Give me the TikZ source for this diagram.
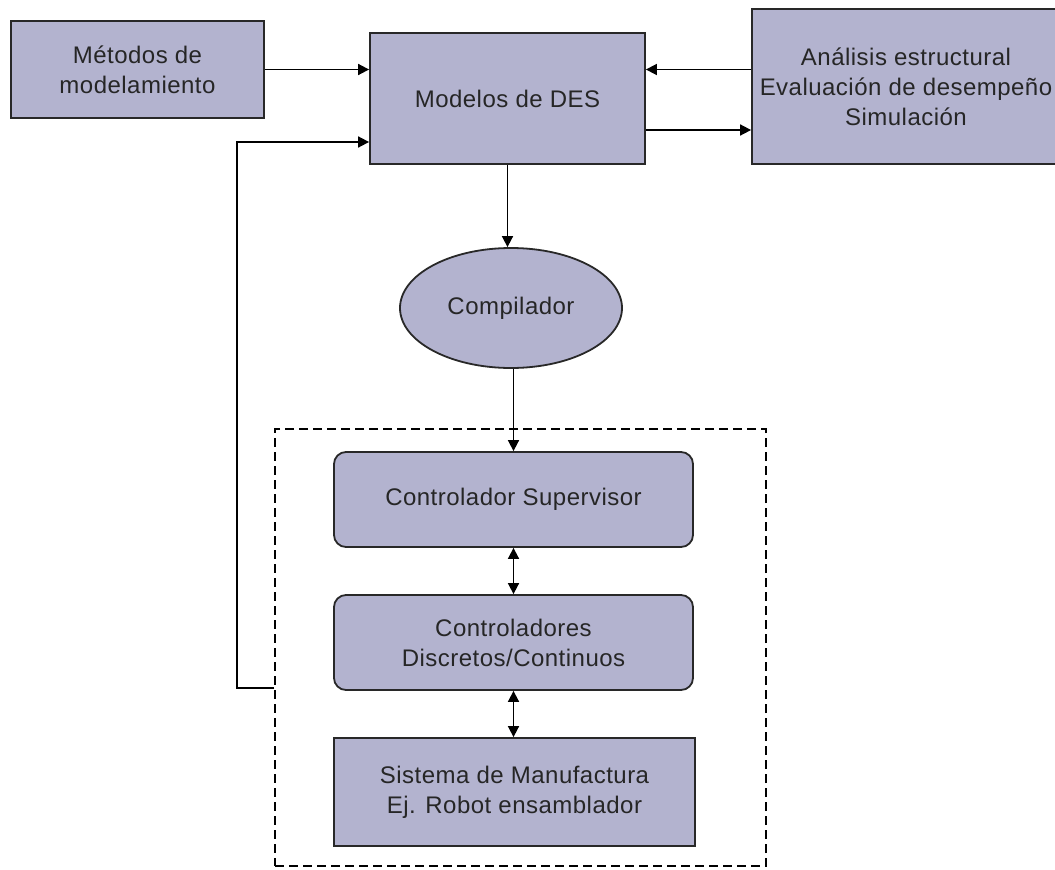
\documentclass[tikz,border=0pt]{standalone}
\usepackage{fontspec}
\setmainfont{Liberation Sans}[LetterSpace=2]
\usetikzlibrary{arrows.meta,shapes.geometric}
\definecolor{boxfill}{RGB}{179,179,207}
\definecolor{boxline}{RGB}{40,40,40}
\begin{document}
\begin{tikzpicture}[x=1pt,y=-1pt,
  every node/.style={font=\fontsize{24}{30}\selectfont, text=black!85, align=center, inner sep=0pt},
  block/.style={draw=boxline, fill=boxfill, line width=1.8pt},
  rblock/.style={block, rounded corners=12pt},
  arr/.style={line width=1.7pt, -{Triangle[length=11pt,width=11pt]}},
  darr/.style={line width=1.7pt, {Triangle[length=11pt,width=11pt]}-{Triangle[length=11pt,width=11pt]}},
  group/.style={draw=black, line width=1.4pt, dash pattern=on 9pt off 5pt}
]
\useasboundingbox (0,0) rectangle (1055,870);

% upper row
\node[block, minimum width=253pt, minimum height=97pt] (met) at (137.5,69.5) {Métodos de\\modelamiento};
\node[block, minimum width=275pt, minimum height=131pt] (mod) at (507.5,98.5) {Modelos de DES};
\node[block, minimum width=308pt, minimum height=155pt] (ana) at (906,86.5) {Análisis estructural\\Evaluación de desempeño\\Simulación};

% compiler
\node[block, ellipse, minimum width=222pt, minimum height=120pt] (comp) at (511,308) {Compilador};

% controlled plant group
\node[group, minimum width=491pt, minimum height=437pt] (grp) at (520.5,647.5) {};
\node[rblock, minimum width=359pt, minimum height=95pt] (sup) at (513.5,499.5) {Controlador Supervisor};
\node[rblock, minimum width=359pt, minimum height=95pt] (ctl) at (513.5,642.5) {Controladores\\Discretos/Continuos};
\node[block, minimum width=361pt, minimum height=108pt] (sis) at (514.5,792) {Sistema de Manufactura\\Ej. Robot ensamblador};

% connectors
\draw[arr] (met.east) -- (mod.west |- met.east);
\draw[arr] (ana.west |- met.east) -- (mod.east |- met.east);
\draw[arr] (mod.east |- 0,130) -- (ana.west |- 0,130);
\draw[arr] (mod.south) -- (mod.south |- comp.north);
\draw[arr] (sup.north |- comp.south) -- (sup.north);
\draw[darr] (sup.south) -- (ctl.north);
\draw[darr] (ctl.south) -- (ctl.south |- sis.north);
\draw[arr] (grp.west |- 0,688) -- (237,688) -- (237,142) -- (mod.west |- 0,142);
\end{tikzpicture}
\end{document}
